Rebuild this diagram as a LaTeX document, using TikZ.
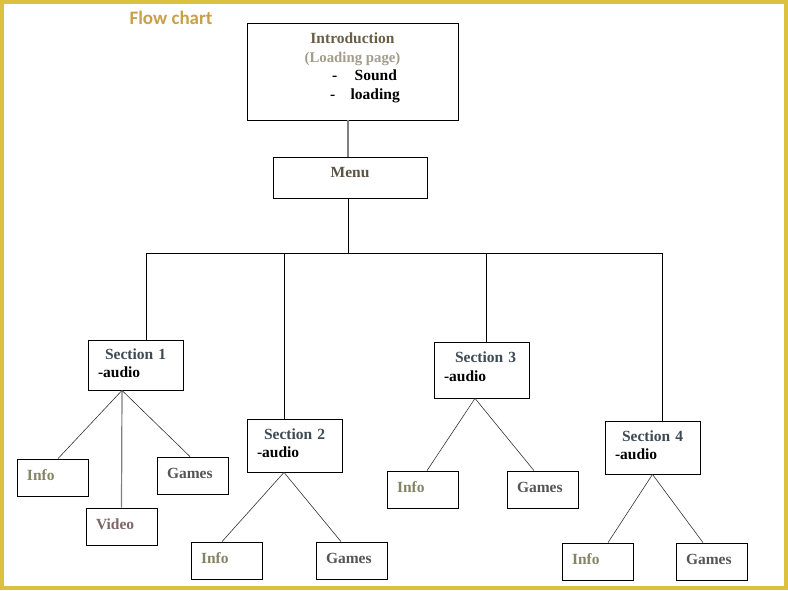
\documentclass[tikz,border=0pt]{standalone}
\usepackage{fontspec}
\setmainfont{Liberation Serif}
\newfontfamily\titlefont{Carlito}
\usepackage{xcolor}
\usetikzlibrary{positioning, calc}
\definecolor{framecolor}{HTML}{DCC13F}
\definecolor{titlecolor}{HTML}{C8A04A}
\definecolor{introcolor}{HTML}{6A5F45}
\definecolor{loadcolor}{HTML}{A39D8B}
\definecolor{menucolor}{HTML}{5B5343}
\definecolor{sectcolor}{HTML}{3E4A54}
\definecolor{infocolor}{HTML}{858566}
\definecolor{gamescolor}{HTML}{555555}
\definecolor{videocolor}{HTML}{7E6666}

\begin{document}
\begin{tikzpicture}[x=1pt, y=-1pt,
    box/.style={rectangle, draw=black, line width=0.8pt, inner sep=0pt, font=\fontsize{15.5}{18.5}\selectfont\bfseries},
    section/.style={box, minimum width=95pt, minimum height=#1, inner xsep=10pt, text width=75pt, align=left},
    section/.default=53pt,
    leaf/.style={box, minimum height=37pt, inner xsep=10pt, text width=51pt, align=left, text height=10.5pt, text depth=5pt, text=#1},
    trunk/.style={black, line width=0.9pt},
    twig/.style={black!80, line width=0.6pt}
]
\useasboundingbox (0,0) rectangle (788,590);
\fill[white] (0,0) rectangle (788,590);
\draw[framecolor, line width=4pt] (2,2) rectangle (786,588);

% Title
\node[font=\titlefont\fontsize{19}{22}\selectfont\bfseries, text=titlecolor] (title) at (171,18) {Flow chart};

% Top of the tree
\node[box, minimum width=211pt, minimum height=97pt, align=center] (intro) at (352.5,71.5)
  {{\color{introcolor}Introduction}\\
   {\color{loadcolor}\fontsize{14.8}{18.5}\selectfont(Loading page)}\\
   \makebox[90pt][l]{\hspace*{24.5pt}-\hspace{17.5pt}Sound}\\
   \makebox[90pt][l]{\hspace*{22.5pt}-\hspace{15.5pt}loading}\rule[-11pt]{0pt}{0pt}};
\node[box, minimum width=154pt, minimum height=41pt, text height=6pt, text depth=6pt, text=menucolor] (menu) at (350,177.5) {Menu};

% Four sections
\node[section=50pt] (s1) at (135.5,365) {\hspace*{7pt}{\color{sectcolor}Section 1}\\-audio\rule[-4pt]{0pt}{0pt}};
\node[section] (s2) at (294.5,445.5) {\hspace*{7pt}{\color{sectcolor}Section 2}\\-audio\rule[-5pt]{0pt}{0pt}};
\node[section=56pt] (s3) at (481.5,370) {\hspace*{11pt}{\color{sectcolor}Section 3}\\-audio\rule[-7pt]{0pt}{0pt}};
\node[section] (s4) at (652.5,447.5) {\hspace*{7pt}{\color{sectcolor}Section 4}\\-audio\rule[-5pt]{0pt}{0pt}};

% Leaves
\node[leaf=infocolor] (info1) at (52.5,477.5) {Info};
\node[leaf=gamescolor] (games1) at (192.5,475.5) {Games};
\node[leaf=videocolor] (video1) at (121.5,526.5) {Video};
\node[leaf=infocolor] (info2) at (226.5,560.5) {Info};
\node[leaf=gamescolor] (games2) at (351.5,560.5) {Games};
\node[leaf=infocolor] (info3) at (422.5,489.5) {Info};
\node[leaf=gamescolor] (games3) at (542.5,489.5) {Games};
\node[leaf=infocolor] (info4) at (597.5,561.5) {Info};
\node[leaf=gamescolor] (games4) at (711.5,561.5) {Games};

% Trunk and bus
\coordinate (hub) at (348,253);
\coordinate (b1) at (146,253);
\coordinate (b2) at (284,253);
\coordinate (b3) at (486,253);
\coordinate (b4) at (662,253);
\draw[gray, line width=1.4pt] (hub |- intro.south) -- (hub |- menu.north);
\draw[trunk] (hub |- menu.south) -- (hub);
\draw[trunk] (b1) -- (b4);
\foreach \i in {1,...,4}
  \draw[trunk] (b\i) -- (b\i |- s\i.north);

% Section forks
\coordinate (f1) at ([xshift=-13.5pt]s1.south);
\coordinate (f2) at ([xshift=-10.5pt]s2.south);
\coordinate (f3) at ([xshift=-6.5pt]s3.south);
\coordinate (f4) at (s4.south);
\draw[gray, line width=1.2pt] (f1) -- (video1.north);
\foreach \f/\l/\dx in {1/info1/5.5, 1/games1/-2.5, 2/info2/-4.5, 2/games2/-10.5,
                      3/info3/4.5, 3/games3/-8.5, 4/info4/10.5, 4/games4/-8.5}
  \draw[twig] (f\f) -- ([xshift=\dx pt]\l.north);
\end{tikzpicture}
\end{document}
